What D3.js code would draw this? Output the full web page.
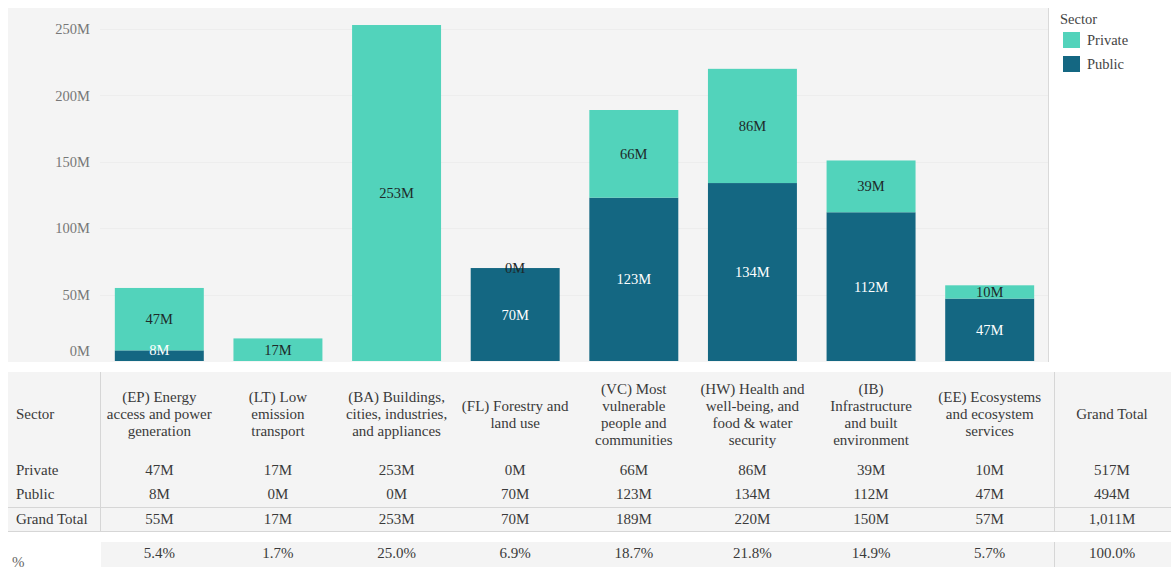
<!DOCTYPE html>
<html>
<head>
<meta charset="utf-8">
<script src="https://cdn.jsdelivr.net/npm/d3@7"></script>
<style>
  html, body { margin: 0; padding: 0; background: #fff; }
  svg { display: block; font-family: "Liberation Serif", "DejaVu Serif", serif; }
</style>
</head>
<body>
<svg id="chart" width="1171" height="570"></svg>
<script>
// Climate finance by sector (millions), split into private and public funding
const categories = ["EP", "LT", "BA", "FL", "VC", "HW", "IB", "EE"];
const categoryLines = [
  ["(EP) Energy", "access and power", "generation"],
  ["(LT) Low", "emission", "transport"],
  ["(BA) Buildings,", "cities, industries,", "and appliances"],
  ["(FL) Forestry and", "land use"],
  ["(VC) Most", "vulnerable", "people and", "communities"],
  ["(HW) Health and", "well-being, and", "food & water", "security"],
  ["(IB)", "Infrastructure", "and built", "environment"],
  ["(EE) Ecosystems", "and ecosystem", "services"]
];
// null = no funding recorded for that sector
const privateVals = [47, 17, 253, 0, 66, 86, 39, 10];
const publicVals  = [8, null, null, 70, 123, 134, 112, 47];
const totalVals   = [55, 17, 253, 70, 189, 220, 150, 57];
const shareLabels = ["5.4%", "1.7%", "25.0%", "6.9%", "18.7%", "21.8%", "14.9%", "5.7%"];
const grandTotals = { Private: 517, Public: 494, "Grand Total": 1011 };
const grandShare = "100.0%";
const seriesNames = ["Private", "Public"];
const yTicks = [0, 50, 100, 150, 200, 250];

const colors = { Private: "#52d3bb", Public: "#146782" };
const fmtM = v => d3.format(",")(v ?? 0) + "M";

const svg = d3.select("#chart");
const W = 1171;

// ---- chart panel ----
const panel = { left: 8, top: 8, right: 1048, bottom: 362 };
svg.append("rect")
  .attr("x", panel.left).attr("y", panel.top)
  .attr("width", panel.right - panel.left).attr("height", panel.bottom - panel.top)
  .attr("fill", "#f4f4f4");
svg.append("line")
  .attr("x1", panel.right + 0.5).attr("x2", panel.right + 0.5)
  .attr("y1", panel.top).attr("y2", panel.bottom)
  .attr("stroke", "#d9d9d9");

const x = d3.scaleBand().domain(categories).range([100, 1049])
  .paddingInner(0.25).paddingOuter(0.125);
const y = d3.scaleLinear().domain([0, 250]).range([361, 29]);

// faint gridlines
svg.append("g").selectAll("line").data(yTicks.slice(1)).join("line")
  .attr("x1", 100).attr("x2", panel.right)
  .attr("y1", d => Math.round(y(d)) + 0.5).attr("y2", d => Math.round(y(d)) + 0.5)
  .attr("stroke", "#ededed");

// y axis
const yAxis = svg.append("g").attr("transform", "translate(92,0)")
  .call(d3.axisLeft(y).tickValues(yTicks).tickFormat(d => d + "M").tickSize(0).tickPadding(2));
yAxis.select(".domain").remove();
yAxis.selectAll("text")
  .attr("font-family", "Liberation Serif, serif")
  .attr("font-size", 14.5).attr("fill", "#777")
  .attr("dy", d => d === 0 ? "-0.4em" : "0.32em");

// stacked bars: public at the base, private on top
const rows = categories.map((c, i) => ({ cat: c, Public: publicVals[i], Private: privateVals[i] }));
const stack = d3.stack().keys(["Public", "Private"]).value((d, k) => d[k] ?? 0)(rows);

const barG = svg.append("g");
stack.forEach(layer => {
  const key = layer.key;
  barG.append("g").selectAll("rect").data(layer).join("rect")
    .attr("x", d => x(d.data.cat))
    .attr("width", x.bandwidth())
    .attr("y", d => y(d[1]))
    .attr("height", d => y(d[0]) - y(d[1]))
    .attr("fill", colors[key]);
});

// segment value labels
const labelG = svg.append("g")
  .attr("font-family", "Liberation Serif, serif").attr("font-size", 14.5)
  .attr("text-anchor", "middle");
stack.forEach(layer => {
  const key = layer.key;
  labelG.append("g").selectAll("text")
    .data(layer.filter(d => d.data[key] != null))
    .join("text")
    .attr("x", d => x(d.data.cat) + x.bandwidth() / 2)
    .attr("y", d => Math.min((y(d[0]) + y(d[1])) / 2, y(0) - 11))
    .attr("dy", "0.35em")
    .attr("fill", key === "Public" ? "#ffffff" : "#1e2a2a")
    .text(d => fmtM(d.data[key]));
});

// legend
const leg = svg.append("g").attr("font-family", "Liberation Serif, serif").attr("font-size", 14.5);
leg.append("text").attr("x", 1060).attr("y", 24).attr("fill", "#444").text("Sector");
seriesNames.forEach((s, i) => {
  leg.append("rect").attr("x", 1063).attr("y", 32 + i * 24).attr("width", 17).attr("height", 16)
    .attr("fill", colors[s]);
  leg.append("text").attr("x", 1087).attr("y", 45 + i * 24).attr("fill", "#444").text(s);
});

// ---- summary table ----
const tTop = 372, tBottom = 532;
const tableG = svg.append("g")
  .attr("font-family", "Liberation Serif, serif").attr("font-size", 15).attr("fill", "#3a3a3a");
tableG.append("rect").attr("x", 8).attr("y", tTop).attr("width", W - 8).attr("height", tBottom - tTop)
  .attr("fill", "#f4f4f4");
tableG.append("line").attr("x1", 8).attr("x2", W).attr("y1", 507.5).attr("y2", 507.5).attr("stroke", "#d6d6d6");
tableG.append("line").attr("x1", 8).attr("x2", W).attr("y1", 531.5).attr("y2", 531.5).attr("stroke", "#d6d6d6");
tableG.append("line").attr("x1", 100.5).attr("x2", 100.5).attr("y1", tTop).attr("y2", tBottom).attr("stroke", "#d6d6d6");
tableG.append("line").attr("x1", 1054.5).attr("x2", 1054.5).attr("y1", tTop).attr("y2", tBottom).attr("stroke", "#d6d6d6");

// share row band
tableG.append("rect").attr("x", 101).attr("y", 542).attr("width", W - 101).attr("height", 25)
  .attr("fill", "#f4f4f4");
tableG.append("line").attr("x1", 1054.5).attr("x2", 1054.5).attr("y1", 542).attr("y2", 567).attr("stroke", "#d6d6d6");

const gtX = 1112;
const lineH = 17, headerMid = 414;

// header cells
tableG.append("text").attr("x", 16).attr("y", headerMid).attr("dy", "0.35em").text("Sector");
categories.forEach((c, i) => {
  const lines = categoryLines[i];
  const cx = x(c) + x.bandwidth() / 2;
  const t = tableG.append("text").attr("text-anchor", "middle");
  lines.forEach((ln, j) => {
    t.append("tspan").attr("x", cx)
      .attr("y", headerMid + (j - (lines.length - 1) / 2) * lineH)
      .attr("dy", "0.35em").text(ln);
  });
});
tableG.append("text").attr("x", gtX).attr("y", headerMid).attr("dy", "0.35em")
  .attr("text-anchor", "middle").text("Grand Total");

// value rows
const tableRows = [
  { name: "Private", y: 470, vals: privateVals },
  { name: "Public", y: 494, vals: publicVals },
  { name: "Grand Total", y: 519, vals: totalVals }
];
tableRows.forEach(r => {
  tableG.append("text").attr("x", 16).attr("y", r.y).attr("dy", "0.35em").text(r.name);
  categories.forEach((c, i) => {
    tableG.append("text").attr("x", x(c) + x.bandwidth() / 2).attr("y", r.y).attr("dy", "0.35em")
      .attr("text-anchor", "middle").text(fmtM(r.vals[i]));
  });
  tableG.append("text").attr("x", gtX).attr("y", r.y).attr("dy", "0.35em")
    .attr("text-anchor", "middle").text(fmtM(grandTotals[r.name]));
});

// share row
tableG.append("text").attr("x", 12).attr("y", 562).attr("dy", "0.35em").attr("fill", "#666").text("%");
categories.forEach((c, i) => {
  tableG.append("text").attr("x", x(c) + x.bandwidth() / 2).attr("y", 553).attr("dy", "0.35em")
    .attr("text-anchor", "middle").text(shareLabels[i]);
});
tableG.append("text").attr("x", gtX).attr("y", 553).attr("dy", "0.35em")
  .attr("text-anchor", "middle").text(grandShare);
</script>
</body>
</html>
